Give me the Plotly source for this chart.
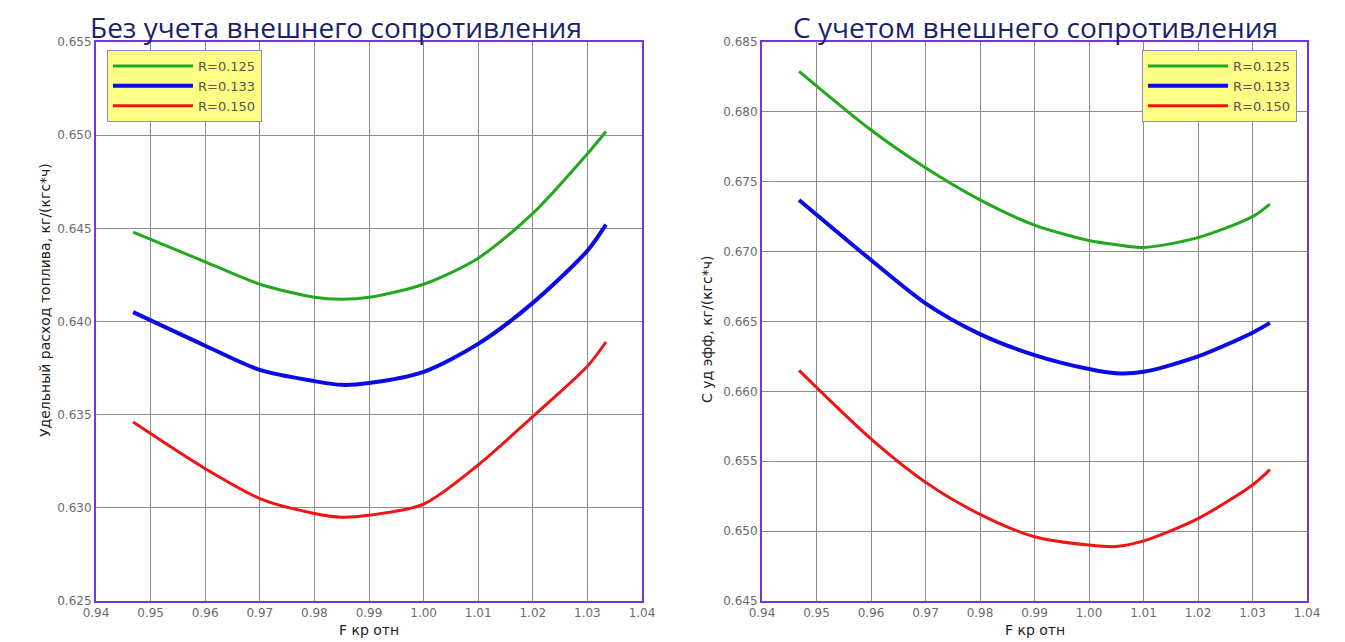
import plotly.graph_objects as go

# ---------- data ----------
series_names = ["R=0.125", "R=0.133", "R=0.150"]
series_colors = ["#22a81e", "#0a0ae6", "#f01414"]
series_widths = [3, 4, 3]

left_x = [0.9468, 0.96, 0.97, 0.98, 0.985, 0.99, 1.00, 1.01, 1.02, 1.03, 1.0334]
left_r125 = [0.6448, 0.6432, 0.6420, 0.6413, 0.6412, 0.6413, 0.6420, 0.6434, 0.6458, 0.6490, 0.6502]
left_r133 = [0.6405, 0.6387, 0.6374, 0.6368, 0.6366, 0.6367, 0.6373, 0.6388, 0.6410, 0.6438, 0.6452]
left_r150 = [0.6346, 0.6321, 0.6305, 0.6297, 0.6295, 0.6296, 0.6302, 0.6323, 0.6349, 0.6376, 0.6389]

right_x = [0.9468, 0.96, 0.97, 0.98, 0.99, 1.00, 1.005, 1.01, 1.02, 1.03, 1.0332]
right_r125 = [0.6829, 0.6787, 0.6760, 0.6737, 0.6719, 0.6708, 0.6705, 0.6703, 0.6710, 0.6725, 0.6734]
right_r133 = [0.6737, 0.6694, 0.6663, 0.6641, 0.6626, 0.6616, 0.6613, 0.6614, 0.6625, 0.6642, 0.6649]
right_r150 = [0.6615, 0.6566, 0.6535, 0.6512, 0.6496, 0.6490, 0.6489, 0.6493, 0.6509, 0.6533, 0.6544]

left_title = "Без учета внешнего сопротивления"
right_title = "С учетом внешнего сопротивления"
x_label = "F кр отн"
left_y_label = "Удельный расход топлива, кг/(кгс*ч)"
right_y_label = "С уд эфф, кг/(кгс*ч)"

left_range = [0.625, 0.655]
right_range = [0.645, 0.685]
x_range = [0.94, 1.04]

# ---------- figure ----------
W, H = 1345, 642
OFF = 8  # page body margin
fig = go.Figure()

def px_x(p):
    return (p - OFF) / W

def px_y(p):
    return 1 - (p - OFF) / H

left_series = [left_r125, left_r133, left_r150]
right_series = [right_r125, right_r133, right_r150]

for i, ys in enumerate(left_series):
    fig.add_trace(go.Scatter(
        x=left_x, y=ys, name=series_names[i], mode="lines",
        line=dict(color=series_colors[i], width=series_widths[i], shape="spline", smoothing=0.8),
        xaxis="x", yaxis="y", legend="legend"))
for i, ys in enumerate(right_series):
    fig.add_trace(go.Scatter(
        x=right_x, y=ys, name=series_names[i], mode="lines",
        line=dict(color=series_colors[i], width=series_widths[i], shape="spline", smoothing=0.8),
        xaxis="x2", yaxis="y2", legend="legend2"))

frame_color = "#7236e0"
grid_color = "#8c8c8c"
tick_font = dict(family="DejaVu Sans", size=12, color="#6a6a6a")

common_x = dict(range=x_range, dtick=0.01, tick0=0.94, tickformat=".2f",
                showgrid=True, gridcolor=grid_color, gridwidth=1,
                showline=True, linecolor=frame_color, linewidth=2, mirror=True,
                ticks="", tickfont=tick_font, zeroline=False, automargin=False)
common_y = dict(dtick=0.005, tickformat=".3f",
                showgrid=True, gridcolor=grid_color, gridwidth=1,
                showline=True, linecolor=frame_color, linewidth=2, mirror=True,
                ticks="", tickfont=tick_font, zeroline=False, automargin=False)

ydom = [px_y(601), px_y(42)]
legend_common = dict(bgcolor="#fdfd86", bordercolor="#8c8cc8", borderwidth=1,
                     font=dict(family="DejaVu Sans", size=13, color="#555555"),
                     itemwidth=80, tracegroupgap=0, yanchor="top")

fig.update_layout(
    width=W, height=H,
    margin=dict(l=0, r=0, t=0, b=0),
    paper_bgcolor="white", plot_bgcolor="white",
    showlegend=True,
    xaxis=dict(domain=[px_x(96), px_x(642)], anchor="y", **common_x),
    yaxis=dict(domain=ydom, anchor="x", range=left_range, tick0=0.625, **common_y),
    xaxis2=dict(domain=[px_x(762), px_x(1307)], anchor="y2", **common_x),
    yaxis2=dict(domain=ydom, anchor="x2", range=right_range, tick0=0.645, **common_y),
    legend=dict(x=px_x(107), y=px_y(50), xanchor="left", **legend_common),
    legend2=dict(x=px_x(1297), y=px_y(50), xanchor="right", **legend_common),
)

title_font = dict(family="Open Sans", size=28, color="#1c1f6b")
label_font = dict(family="DejaVu Sans", size=14, color="#222222")
fig.add_annotation(text=left_title, x=px_x(336), y=px_y(27), xref="paper", yref="paper",
                   showarrow=False, font=title_font, xanchor="center", yanchor="middle")
fig.add_annotation(text=right_title, x=px_x(1035), y=px_y(27), xref="paper", yref="paper",
                   showarrow=False, font=title_font, xanchor="center", yanchor="middle")
fig.add_annotation(text=x_label, x=px_x(369), y=px_y(630), xref="paper", yref="paper",
                   showarrow=False, font=label_font, xanchor="center", yanchor="middle")
fig.add_annotation(text=x_label, x=px_x(1035), y=px_y(630), xref="paper", yref="paper",
                   showarrow=False, font=label_font, xanchor="center", yanchor="middle")
fig.add_annotation(text=left_y_label, x=px_x(45), y=px_y(300), xref="paper", yref="paper",
                   showarrow=False, font=label_font, textangle=-90, xanchor="center", yanchor="middle")
fig.add_annotation(text=right_y_label, x=px_x(707), y=px_y(330), xref="paper", yref="paper",
                   showarrow=False, font=label_font, textangle=-90, xanchor="center", yanchor="middle")

fig.write_html("out.html")
